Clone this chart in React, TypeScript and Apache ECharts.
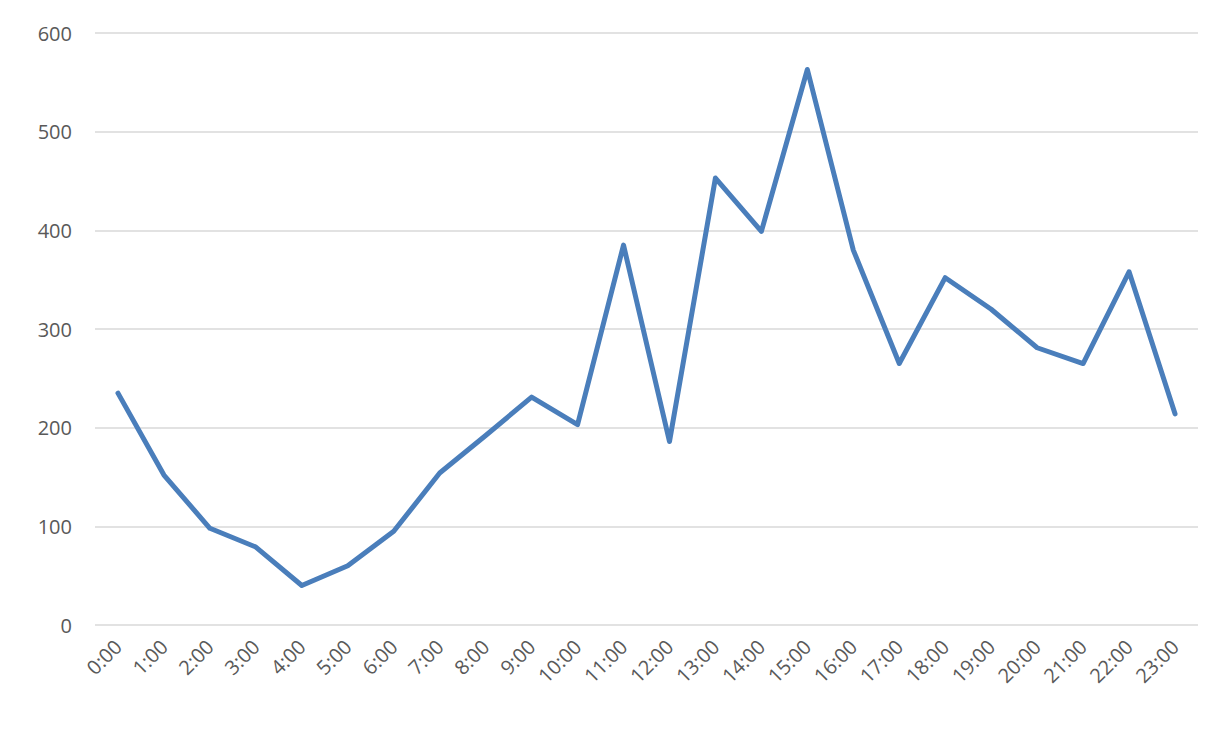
import React, { useEffect, useRef } from "react";
import * as echarts from "echarts";

const categories = ["0:00","1:00","2:00","3:00","4:00","5:00","6:00","7:00","8:00","9:00","10:00","11:00","12:00","13:00","14:00","15:00","16:00","17:00","18:00","19:00","20:00","21:00","22:00","23:00"];
const values = [235, 152, 98, 79, 40, 60, 95, 154, 192, 231, 203, 385, 186, 453, 399, 563, 380, 265, 352, 320, 281, 265, 358, 214];

export default function App() {
  const ref = useRef<HTMLDivElement>(null);
  useEffect(() => {
    if (!ref.current) return;
    const chart = echarts.init(ref.current, null, { renderer: "svg" });
    chart.setOption({
      animation: false,
      backgroundColor: "#ffffff",
      grid: { left: 95, right: 26, top: 33, bottom: 106 },
      xAxis: {
        type: "category",
        data: categories,
        boundaryGap: true,
        axisLine: { show: false },
        axisTick: { show: false },
        axisLabel: { rotate: 45, color: "#595959", fontSize: 20, fontFamily: "Open Sans", margin: 18, interval: 0 },
      },
      yAxis: {
        type: "value",
        min: 0,
        max: 600,
        interval: 100,
        axisLine: { show: false },
        axisTick: { show: false },
        splitLine: { lineStyle: { color: "#d9d9d9", width: 1.5 } },
        axisLabel: { color: "#595959", fontSize: 20, fontFamily: "Open Sans", margin: 23 },
      },
      series: [
        {
          type: "line",
          data: values,
          symbol: "none",
          lineStyle: { color: "#4a7ebb", width: 5, join: "round", cap: "round" },
        },
      ],
    });
    return () => chart.dispose();
  }, []);
  return <div ref={ref} style={{ position: "fixed", left: 0, top: 0, width: 1224, height: 731 }} />;
}
